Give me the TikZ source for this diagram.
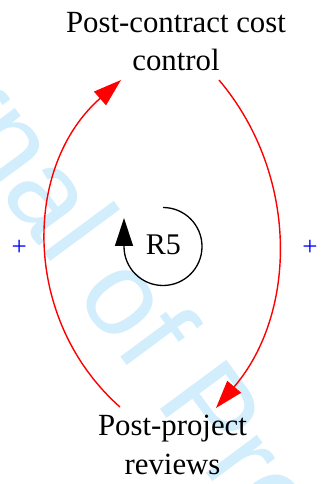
\documentclass[tikz,border=0pt]{standalone}
\usepackage{fontspec}
\setmainfont{Liberation Serif}
\newfontfamily\wmfont{Liberation Sans}
\usetikzlibrary{arrows.meta}
\definecolor{wmblue}{RGB}{210,237,251}
\tikzset{
  varlabel/.style={align=center, inner sep=0pt, font=\fontsize{30.8}{38.4}\selectfont},
  polarity/.style={inner sep=0pt, text=blue, font=\fontsize{27}{27}\selectfont},
  redlink/.style={draw=red, line width=1.4pt, -{Triangle[length=28pt,width=18pt]}},
  loopline/.style={draw=black, line width=1.3pt, -{Triangle[length=28pt,width=18pt]}},
}
\begin{document}
\begin{tikzpicture}[x=1pt,y=1pt]
\useasboundingbox (0,0) rectangle (326,484);
\clip (0,0) rectangle (326,484);
% watermark
\node[anchor=base west, inner sep=0pt, rotate=-53.5, text=wmblue,
      font=\wmfont\fontsize{120}{140}\selectfont] (wm) at (-179,532.5) {Journal of Pre-proof};
% variables
\node[varlabel] (pcc) at (176,442.4) {Post-contract cost\\control};
\node[varlabel] (ppr) at (172.5,39.1) {Post-project\\reviews};
% connector end points
\coordinate (ppr-out) at (120,77);
\coordinate (pcc-in) at (121,404);
\coordinate (pcc-out) at (219,404);
\coordinate (ppr-in) at (216,76);
% links
\draw[redlink] (ppr-out) .. controls +(-98.3,87) and +(-98.5,-86.6) .. (pcc-in);
\draw[redlink] (pcc-out) .. controls +(80.4,-95.2) and +(81.1,94.6) .. (ppr-in);
% polarities
\node[polarity] (pl) at (19.3,235.7) {+};
\node[polarity] (pr) at (310,235.7) {+};
% loop
\node[anchor=base, inner sep=0pt, font=\fontsize{30}{36}\selectfont] (r5) at (163.3,229) {R5};
\coordinate (loopstart) at (163,276.5);
\draw[loopline] (loopstart) arc[start angle=90, end angle=-180, radius=39] -- ++(0,28.5);
\end{tikzpicture}
\end{document}
